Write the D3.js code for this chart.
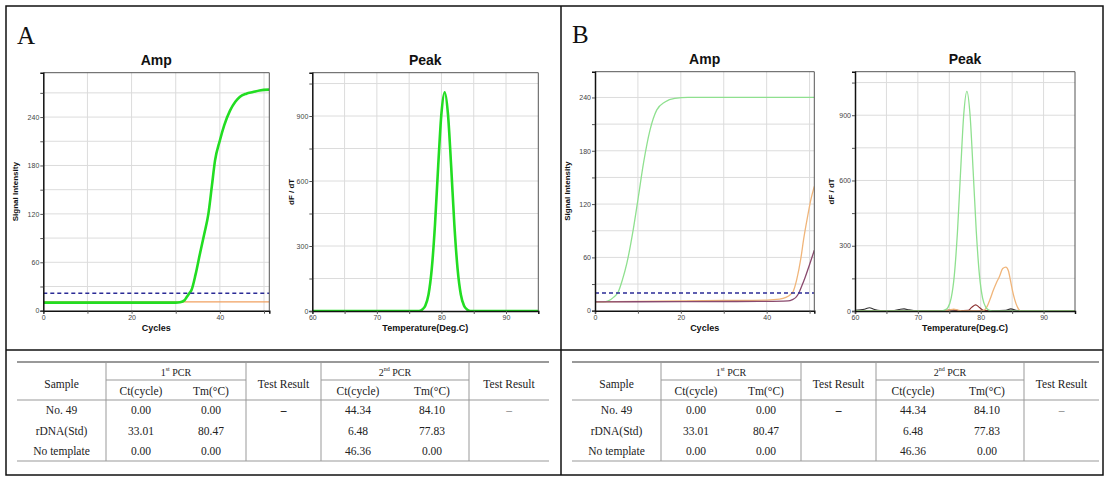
<!DOCTYPE html>
<html><head><meta charset="utf-8">
<script src="https://cdn.jsdelivr.net/npm/d3@7/dist/d3.min.js"></script>
<style>body{margin:0;background:#fff}</style>
</head><body><svg id="c" width="1112" height="477"></svg>
<script>
// ---------- tick labels ----------
const ampXTicks = [0, 20, 40];
const ampYTicks = [0, 60, 120, 180, 240];
const peakXTicks = [60, 70, 80, 90];
const peakYTicks = [0, 300, 600, 900];

// ---------- panel A series ----------
const ampA_threshold = 21.5;
const ampA_green = [[0,10],[10,10],[20,10],[30,10],[31,10.5],[32,13],[32.5,17],[33,21],[33.6,26],[34.5,45],[35.5,71],[36.5,96],[37.4,120],[38.2,155],[38.9,186],[40,211],[41,230],[42.3,248],[43.5,259],[44.5,265],[46,269],[47.5,271],[49,273],[51.2,274]];
const ampA_orange = [[0,11],[20,11],[40,11],[51.2,11]];
const peakA_green = [[60,0],[76.5,0],[77,6],[77.5,24],[78,76],[78.5,194],[79,398],[79.5,671],[80,912],[80.5,1010],[81,912],[81.5,671],[82,398],[82.5,194],[83,76],[83.5,24],[84,6],[84.5,0],[95,0]];

// ---------- panel B series ----------
const ampB_threshold = 20;
const ampB_green = [[0,10],[2,10],[3.1,11],[4.3,15],[5.4,21],[6.4,35],[7.4,53],[8.9,91],[10.1,128],[11.3,166],[12.8,203],[14.4,226],[16.3,235],[18.6,239],[21.7,240],[30,240],[40,240],[51.1,240]];
const ampB_orange = [[0,10],[10,10.5],[20,11],[30,11.5],[40,12],[43,13],[44.5,15],[45.5,18],[46.2,22],[47,35],[48,60],[48.6,80],[49.5,105],[50.3,125],[51.1,140]];
const ampB_purple = [[0,10],[20,10.2],[40,10.5],[45,11],[46,12.5],[46.8,15],[47.5,20],[48.2,28],[49,38],[50,52],[51.1,68]];
const peakB_green = [[60,0],[73.8,0],[74.3,5],[74.8,17],[75.3,59],[75.8,164],[76.3,363],[76.8,642],[77.3,903],[77.8,1010],[78.3,903],[78.8,642],[79.3,363],[79.8,164],[80.3,59],[80.8,17],[81.3,4],[81.8,0],[95,0]];
const peakB_orange = [[60,0],[74,0],[75,4],[75.7,9],[76.5,3],[77.5,0],[80,0],[80.5,3],[81,20],[81.5,55],[82,95],[82.5,130],[83,160],[83.5,195],[84,202],[84.4,185],[84.8,130],[85.2,75],[85.6,35],[86,10],[86.4,0],[95,0]];
const peakB_darkred = [[60,0],[73,0],[74.5,3],[75.5,6],[76.5,2],[78,3],[78.6,18],[79.2,28],[79.8,16],[80.5,2],[82,0],[95,0]];
const peakB_black = [[60,3],[61.5,8],[62.3,15],[63,8],[64,2],[66,2],[67,7],[67.8,10],[68.6,5],[70,1],[80,0],[84,3],[84.8,10],[85.6,3],[87,0],[95,0]];

// ---------- table ----------
const tableSamples = ["No. 49", "rDNA(Std)", "No template"];
const pcr1Ct = ["0.00", "33.01", "0.00"];
const pcr1Tm = ["0.00", "80.47", "0.00"];
const pcr2Ct = ["44.34", "6.48", "46.36"];
const pcr2Tm = ["84.10", "77.83", "0.00"];
const testResult1 = "–";
const testResult2 = "–";

const svg = d3.select("#c");
const SANS = "Liberation Sans, Arial, sans-serif";
const SERIF = "Liberation Serif, Times New Roman, serif";

let clipId = 0;
function drawPlot(o) {
  const x = d3.scaleLinear().domain(o.xDomain).range([o.x0, o.x1]);
  const y = d3.scaleLinear().domain(o.yDomain).range([o.y1, o.y0]);
  const g = svg.append("g");
  g.append("rect").attr("x", o.x0).attr("y", o.y0).attr("width", o.x1 - o.x0).attr("height", o.y1 - o.y0).attr("fill", "#fff");
  const xg = d3.range(o.xDomain[0] + o.xStep, o.xDomain[1], o.xStep);
  const yg = d3.range(o.yStep, o.yDomain[1], o.yStep);
  g.selectAll(".gx").data(xg).join("line").attr("x1", d => x(d)).attr("x2", d => x(d)).attr("y1", o.y0).attr("y2", o.y1).attr("stroke", "#dcdcdc").attr("stroke-width", 1);
  g.selectAll(".gy").data(yg).join("line").attr("y1", d => y(d)).attr("y2", d => y(d)).attr("x1", o.x0).attr("x2", o.x1).attr("stroke", "#dcdcdc").attr("stroke-width", 1);

  const id = "clip" + (clipId++);
  svg.append("clipPath").attr("id", id).append("rect").attr("x", o.x0).attr("y", o.y0).attr("width", o.x1 - o.x0).attr("height", o.y1 - o.y0);
  const pg = g.append("g").attr("clip-path", `url(#${id})`);
  const line = d3.line().x(d => x(d[0])).y(d => y(d[1])).curve(d3.curveMonotoneX);
  o.series.forEach(s => {
    pg.append("path").attr("d", line(s.data)).attr("fill", "none").attr("stroke", s.color).attr("stroke-width", s.width).attr("stroke-linejoin", "round");
  });
  if (o.threshold != null) {
    pg.append("line").attr("x1", o.x0).attr("x2", o.x1).attr("y1", y(o.threshold)).attr("y2", y(o.threshold))
      .attr("stroke", "#2b2b96").attr("stroke-width", 1.5).attr("stroke-dasharray", "4,3");
  }
  // frame
  g.append("line").attr("x1", o.x0).attr("x2", o.x1).attr("y1", o.y0).attr("y2", o.y0).attr("stroke", "#555");
  g.append("line").attr("x1", o.x1).attr("x2", o.x1).attr("y1", o.y0).attr("y2", o.y1).attr("stroke", "#555");
  // axes
  const ax = g.append("g").attr("transform", `translate(0,${o.y1})`)
    .call(d3.axisBottom(x).tickValues(d3.range(o.xDomain[0], o.xDomain[1], o.xStep)).tickSize(3)
      .tickFormat(d => o.xTicks.includes(d) ? d : ""));
  const ay = g.append("g").attr("transform", `translate(${o.x0},0)`)
    .call(d3.axisLeft(y).tickValues(d3.range(0, o.yDomain[1], o.yStep)).tickSize(3)
      .tickFormat(d => o.yTicks.includes(d) ? d : ""));
  [ax, ay].forEach(a => {
    a.select(".domain").attr("stroke", "#111").attr("stroke-width", 1.5);
    a.selectAll(".tick line").attr("stroke", "#555");
    a.selectAll("text").attr("font-family", SANS).attr("font-size", 7).attr("fill", "#444");
  });
  ax.selectAll("text").attr("dy", "0.9em").attr("y", 3);
  ay.selectAll("text").attr("x", -4);
  // titles
  svg.append("text").attr("x", (o.x0 + o.x1) / 2).attr("y", o.y0 - 8).attr("text-anchor", "middle")
    .attr("font-family", SANS).attr("font-weight", "bold").attr("font-size", 14).attr("fill", "#111").text(o.title);
  svg.append("text").attr("x", (o.x0 + o.x1) / 2).attr("y", o.y1 + 20).attr("text-anchor", "middle")
    .attr("font-family", SANS).attr("font-weight", "bold").attr("font-size", 9).attr("fill", "#111").text(o.xLabel);
  svg.append("text").attr("transform", `translate(${o.yLabelX},${(o.y0 + o.y1) / 2}) rotate(-90)`).attr("text-anchor", "middle")
    .attr("font-family", SANS).attr("font-weight", "bold").attr("font-size", 8).attr("fill", "#111").text(o.yLabel);
}

// Panel A
drawPlot({x0: 43.3, x1: 269.3, y0: 72.7, y1: 310.7, xDomain: [0, 51.2], yDomain: [0, 295], xStep: 10, yStep: 30,
  xTicks: ampXTicks, yTicks: ampYTicks, title: "Amp", xLabel: "Cycles", yLabel: "Signal Intensity", yLabelX: 18,
  threshold: ampA_threshold,
  series: [{data: ampA_orange, color: "#f0a060", width: 1.2}, {data: ampA_green, color: "#22dd22", width: 2.6}]});
drawPlot({x0: 312.3, x1: 538.3, y0: 72.7, y1: 311, xDomain: [60, 95], yDomain: [0, 1100], xStep: 5, yStep: 150,
  xTicks: peakXTicks, yTicks: peakYTicks, title: "Peak", xLabel: "Temperature(Deg.C)", yLabel: "dF / dT", yLabelX: 294,
  threshold: null,
  series: [{data: peakA_green, color: "#22dd22", width: 2.6}]});
// Panel B
drawPlot({x0: 595, x1: 814.3, y0: 71.7, y1: 310.7, xDomain: [0, 51.1], yDomain: [0, 269], xStep: 10, yStep: 30,
  xTicks: ampXTicks, yTicks: ampYTicks, title: "Amp", xLabel: "Cycles", yLabel: "Signal Intensity", yLabelX: 570,
  threshold: ampB_threshold,
  series: [{data: ampB_green, color: "#8fe08f", width: 1.3}, {data: ampB_orange, color: "#f0b57a", width: 1.3}, {data: ampB_purple, color: "#8a4a6e", width: 1.3}]});
drawPlot({x0: 855, x1: 1075, y0: 71.7, y1: 311, xDomain: [60, 95], yDomain: [0, 1100], xStep: 5, yStep: 150,
  xTicks: peakXTicks, yTicks: peakYTicks, title: "Peak", xLabel: "Temperature(Deg.C)", yLabel: "dF / dT", yLabelX: 834,
  threshold: null,
  series: [{data: peakB_black, color: "#333", width: 1.1}, {data: peakB_darkred, color: "#8b3030", width: 1.1}, {data: peakB_orange, color: "#f0b57a", width: 1.3}, {data: peakB_green, color: "#8fe08f", width: 1.3}]});

// Panel letters
svg.append("text").attr("x", 17).attr("y", 44).attr("font-family", SERIF).attr("font-size", 25).attr("fill", "#111").text("A");
svg.append("text").attr("x", 572).attr("y", 43).attr("font-family", SERIF).attr("font-size", 25).attr("fill", "#111").text("B");

// Tables
function drawTable(cols) {
  const g = svg.append("g").attr("font-family", SERIF).attr("fill", "#222");
  const yTop = 362, ySub = 380, yHead = 400, yBot = 461;
  const L = cols[0], R = cols[cols.length - 1];
  g.append("line").attr("x1", L).attr("x2", R).attr("y1", yTop).attr("y2", yTop).attr("stroke", "#999").attr("stroke-width", 2);
  g.append("line").attr("x1", cols[1]).attr("x2", cols[3]).attr("y1", ySub).attr("y2", ySub).attr("stroke", "#999");
  g.append("line").attr("x1", cols[4]).attr("x2", cols[6]).attr("y1", ySub).attr("y2", ySub).attr("stroke", "#999");
  g.append("line").attr("x1", L).attr("x2", R).attr("y1", yHead).attr("y2", yHead).attr("stroke", "#999");
  g.append("line").attr("x1", L).attr("x2", R).attr("y1", yBot).attr("y2", yBot).attr("stroke", "#999");
  [cols[1], cols[3], cols[4], cols[6]].forEach(cx => g.append("line").attr("x1", cx).attr("x2", cx).attr("y1", yTop).attr("y2", yBot).attr("stroke", "#999"));
  const mid = (a, b) => (cols[a] + cols[b]) / 2;
  const T = (x, y, s, fs) => g.append("text").attr("x", x).attr("y", y).attr("text-anchor", "middle").attr("dominant-baseline", "central").attr("font-size", fs || 11.5).text(s);
  T(mid(0, 1), 384, "Sample");
  T(mid(3, 4), 384, "Test Result");
  T(mid(6, 7), 384, "Test Result");
  const sup = (x, n, s) => {
    const t = g.append("text").attr("x", x).attr("y", 372).attr("text-anchor", "middle").attr("dominant-baseline", "central").attr("font-size", 10);
    t.append("tspan").text(n);
    t.append("tspan").attr("font-size", 6).attr("dy", -3).text(s);
    t.append("tspan").attr("dy", 3).text(" PCR");
  };
  sup(mid(1, 3), "1", "st");
  sup(mid(4, 6), "2", "nd");
  T(mid(1, 2), 391, "Ct(cycle)"); T(mid(2, 3), 391, "Tm(°C)");
  T(mid(4, 5), 391, "Ct(cycle)"); T(mid(5, 6), 391, "Tm(°C)");
  const rowY = [410, 431, 451];
  tableSamples.forEach((s, i) => {
    T(mid(0, 1), rowY[i], s);
    T(mid(1, 2), rowY[i], pcr1Ct[i]); T(mid(2, 3), rowY[i], pcr1Tm[i]);
    T(mid(4, 5), rowY[i], pcr2Ct[i]); T(mid(5, 6), rowY[i], pcr2Tm[i]);
  });
  T(mid(3, 4), rowY[0], testResult1).attr("font-weight", "bold");
  T(mid(6, 7), rowY[0], testResult2).attr("fill", "#777");
}
drawTable([17, 106, 176, 246, 321, 395, 469, 549]);
drawTable([572, 661, 731, 801, 876, 950, 1024, 1099]);

// Outer frame
const fr = svg.append("g").attr("stroke", "#111").attr("stroke-width", 1.5).attr("fill", "none");
fr.append("rect").attr("x", 6).attr("y", 6).attr("width", 1097).attr("height", 469);
fr.append("line").attr("x1", 561).attr("x2", 561).attr("y1", 6).attr("y2", 475);
fr.append("line").attr("x1", 6).attr("x2", 1103).attr("y1", 350).attr("y2", 350);
</script></body></html>
